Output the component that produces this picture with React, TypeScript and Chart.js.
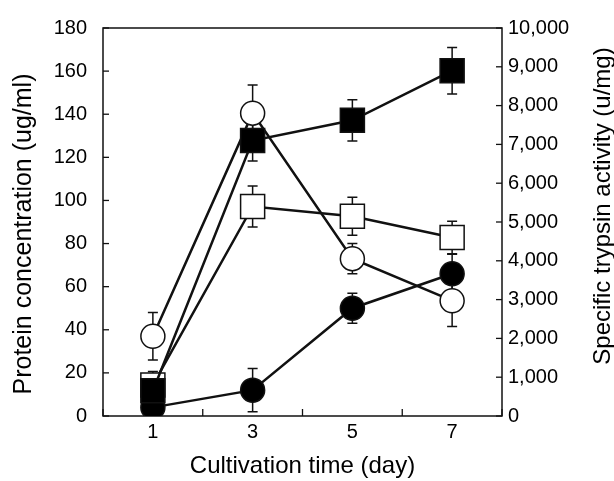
import React, { useEffect, useRef } from 'react';
import { Chart, registerables } from 'chart.js';

Chart.register(...registerables);

const days = [1, 3, 5, 7];
const xTickLabels = ['1', '3', '5', '7'];

// Protein concentration (ug/ml) – left axis
const openCircle = [37, 140.5, 73, 53.5];
const openCircleErr = [11, 13, 7, 12];
const filledCircle = [4, 12, 50, 66];
const filledCircleErr = [3, 10, 7, 9];

// Specific trypsin activity (u/mg) – right axis
const openSquare = [800, 5400, 5150, 4600];
const openSquareErr = [350, 530, 490, 420];
const filledSquare = [650, 7100, 7620, 8900];
const filledSquareErr = [300, 530, 530, 600];

const leftTitle = 'Protein concentration (ug/ml)';
const rightTitle = 'Specific trypsin activity (u/mg)';
const bottomTitle = 'Cultivation time (day)';

const FONT = "'Liberation Sans', Arial, sans-serif";

const pts = (vals: number[]) => vals.map((v, i) => ({ x: days[i], y: v }));

const framePlugin = {
  id: 'frameTicks',
  beforeDatasetsDraw(chart: any) {
    const { ctx, chartArea: a, scales } = chart;
    ctx.save();
    ctx.strokeStyle = '#111';
    ctx.lineWidth = 1.5;
    ctx.strokeRect(a.left, a.top, a.right - a.left, a.bottom - a.top);
    ctx.lineWidth = 1.3;
    const seg = (x1: number, y1: number, x2: number, y2: number) => {
      ctx.beginPath();
      ctx.moveTo(x1, y1);
      ctx.lineTo(x2, y2);
      ctx.stroke();
    };
    scales.y.ticks.forEach((t: any) => {
      const p = scales.y.getPixelForValue(t.value);
      seg(a.left, p, a.left + 6, p);
    });
    scales.y2.ticks.forEach((t: any) => {
      const p = scales.y2.getPixelForValue(t.value);
      seg(a.right - 6, p, a.right, p);
    });
    scales.x.ticks.forEach((t: any) => {
      if (t.value % 2 === 0) {
        const p = scales.x.getPixelForValue(t.value);
        seg(p, a.bottom, p, a.bottom - 7);
      }
    });
    ctx.restore();
  },
};

const errorBarPlugin = {
  id: 'errorBars',
  beforeDatasetsDraw(chart: any) {
    const { ctx } = chart;
    ctx.save();
    ctx.strokeStyle = '#111';
    ctx.lineWidth = 1.5;
    chart.data.datasets.forEach((ds: any, i: number) => {
      const meta = chart.getDatasetMeta(i);
      const ys = chart.scales[meta.yAxisID];
      meta.data.forEach((el: any, j: number) => {
        const v = ds.data[j].y;
        const e = ds.errors[j];
        const top = ys.getPixelForValue(v + e);
        const bot = ys.getPixelForValue(Math.max(0, v - e));
        const x = el.x;
        ctx.beginPath();
        ctx.moveTo(x, top);
        ctx.lineTo(x, bot);
        ctx.moveTo(x - 5, top);
        ctx.lineTo(x + 5, top);
        ctx.moveTo(x - 5, bot);
        ctx.lineTo(x + 5, bot);
        ctx.stroke();
      });
    });
    ctx.restore();
  },
};

const titlePlugin = {
  id: 'vTitles',
  afterDraw(chart: any) {
    const { ctx, chartArea: a, scales } = chart;
    const midY = (a.top + a.bottom) / 2;
    ctx.save();
    ctx.fillStyle = '#000';
    ctx.textAlign = 'center';
    ctx.textBaseline = 'middle';
    ctx.font = `25px ${FONT}`;
    ctx.translate(scales.y.left + 24, midY + 12);
    ctx.rotate(-Math.PI / 2);
    ctx.fillText(leftTitle, 0, 0);
    ctx.restore();
    ctx.save();
    ctx.fillStyle = '#000';
    ctx.textAlign = 'center';
    ctx.textBaseline = 'middle';
    ctx.font = `24px ${FONT}`;
    ctx.translate(scales.y2.right - 11, midY - 16);
    ctx.rotate(-Math.PI / 2);
    ctx.fillText(rightTitle, 0, 0);
    ctx.restore();
  },
};

export default function App() {
  const ref = useRef<HTMLCanvasElement>(null);
  useEffect(() => {
    if (!ref.current) return;
    const common = { borderColor: '#111', borderWidth: 2.5, pointBorderWidth: 1.5, pointBorderColor: '#111', fill: false, tension: 0 };
    const chart = new Chart(ref.current, {
      type: 'line',
      data: {
        datasets: [
          { ...common, label: 'filledSquare', data: pts(filledSquare), errors: filledSquareErr, yAxisID: 'y2', pointStyle: 'rect', pointRadius: 17, pointBackgroundColor: '#000' } as any,
          { ...common, label: 'filledCircle', data: pts(filledCircle), errors: filledCircleErr, yAxisID: 'y', pointStyle: 'circle', pointRadius: 12, pointBackgroundColor: '#000' } as any,
          { ...common, label: 'openSquare', data: pts(openSquare), errors: openSquareErr, yAxisID: 'y2', pointStyle: 'rect', pointRadius: 17, pointBackgroundColor: '#fff' } as any,
          { ...common, label: 'openCircle', data: pts(openCircle), errors: openCircleErr, yAxisID: 'y', pointStyle: 'circle', pointRadius: 12, pointBackgroundColor: '#fff' } as any,
        ],
      },
      options: {
        responsive: false,
        devicePixelRatio: 1,
        animation: false,
        layout: { padding: { top: 22, left: 0, right: 0, bottom: 0 } },
        plugins: { legend: { display: false }, tooltip: { enabled: false } },
        scales: {
          x: {
            type: 'linear',
            min: 0,
            max: 8,
            grid: { display: false, drawTicks: false },
            border: { display: false },
            ticks: {
              stepSize: 1,
              padding: 4,
              color: '#000',
              font: { family: FONT, size: 20 },
              autoSkip: false,
              maxRotation: 0,
              callback: (v: any) => {
                const idx = days.indexOf(Number(v));
                return idx >= 0 ? xTickLabels[idx] : '';
              },
            },
            title: { display: true, text: bottomTitle, color: '#000', font: { family: FONT, size: 24 }, padding: 0 },
            afterFit: (s: any) => { s.height = 65; },
          },
          y: {
            position: 'left',
            min: 0,
            max: 180,
            grid: { display: false, drawTicks: false },
            border: { display: false },
            ticks: { stepSize: 20, padding: 16, color: '#000', font: { family: FONT, size: 20 } },
            afterFit: (s: any) => { s.width = 103; },
          },
          y2: {
            position: 'right',
            min: 0,
            max: 10000,
            grid: { display: false, drawTicks: false },
            border: { display: false },
            ticks: { stepSize: 1000, padding: 6, color: '#000', font: { family: FONT, size: 20 } },
            afterFit: (s: any) => { s.width = 112; },
          },
        },
      } as any,
      plugins: [framePlugin, errorBarPlugin, titlePlugin],
    });
    return () => chart.destroy();
  }, []);
  return (
    <div style={{ position: 'fixed', left: 0, top: 0, width: 614, height: 481, background: '#fff' }}>
      <canvas ref={ref} width={614} height={481} style={{ width: 614, height: 481 }} />
    </div>
  );
}
